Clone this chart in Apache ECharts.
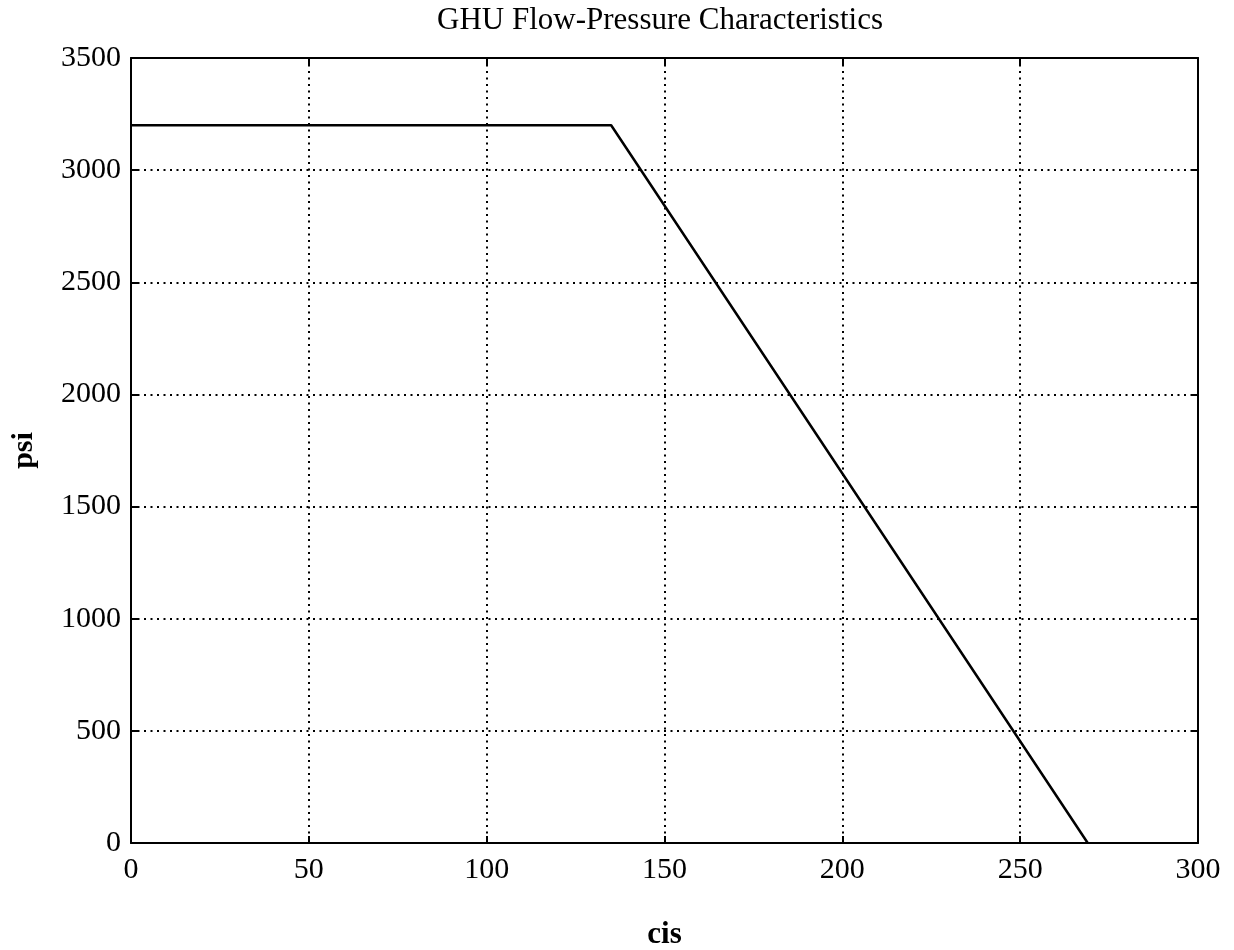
<!DOCTYPE html>
<html>
<head>
<meta charset="utf-8">
<script src="https://cdn.jsdelivr.net/npm/echarts@6/dist/echarts.min.js"></script>
<style>html,body{margin:0;padding:0;background:#fff}#c{width:1234px;height:950px}</style>
</head>
<body>
<div id="c"></div>
<script>
const flow = [0, 135, 269];
const pressure = [3200, 3200, 0];
const titleText = 'GHU Flow-Pressure Characteristics';
const xName = 'cis';
const yName = 'psi';

const chart = echarts.init(document.getElementById('c'), null, {renderer: 'canvas'});
const font = 'Liberation Serif';
const axisLine = {show: true, onZero: false, lineStyle: {color: '#000', width: 2}};
const axisTick = {show: true, inside: true, length: 7, lineStyle: {color: '#000', width: 2}};
const plain = v => String(v);
chart.setOption({
  animation: false,
  backgroundColor: '#fff',
  title: {
    text: titleText, left: 655, top: 0, textAlign: 'center',
    textStyle: {fontFamily: font, fontSize: 31, fontWeight: 'normal', color: '#000'}
  },
  grid: {left: 131, right: 36, top: 58, bottom: 107, containLabel: false, outerBoundsMode: 'none'},
  xAxis: [{
    type: 'value', min: 0, max: 300, interval: 50,
    name: xName, nameLocation: 'middle', nameGap: 76,
    nameTextStyle: {fontFamily: font, fontSize: 31, fontWeight: 'bold', color: '#000'},
    axisLine, axisTick,
    axisLabel: {fontFamily: font, fontSize: 30, color: '#000', margin: 12, formatter: plain},
    splitLine: {show: true, lineStyle: {color: '#000', width: 2, type: [2, 4.5]}}
  }, {
    type: 'value', min: 0, max: 300, interval: 50, position: 'top',
    axisLine, axisTick, axisLabel: {show: false}, splitLine: {show: false}
  }],
  yAxis: [{
    type: 'value', min: 0, max: 3500, interval: 500,
    name: yName, nameLocation: 'middle', nameGap: 92,
    nameTextStyle: {fontFamily: font, fontSize: 30, fontWeight: 'bold', color: '#000'},
    axisLine, axisTick,
    axisLabel: {fontFamily: font, fontSize: 30, color: '#000', margin: 10, formatter: plain},
    splitLine: {show: true, lineStyle: {color: '#000', width: 2, type: [2, 4.5]}}
  }, {
    type: 'value', min: 0, max: 3500, interval: 500, position: 'right',
    axisLine, axisTick, axisLabel: {show: false}, splitLine: {show: false}
  }],
  series: [{
    type: 'line',
    data: flow.map((x, i) => [x, pressure[i]]),
    showSymbol: false,
    lineStyle: {color: '#000', width: 2.5},
    z: 5
  }]
});
</script>
</body>
</html>
